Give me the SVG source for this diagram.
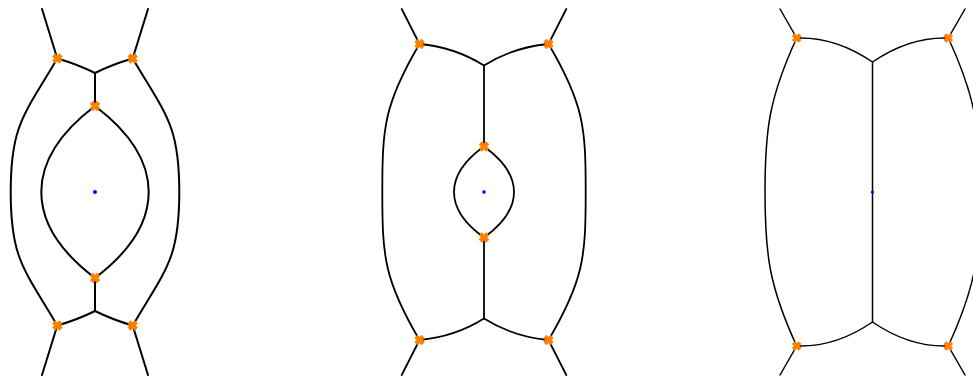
<svg xmlns="http://www.w3.org/2000/svg" xmlns:xlink="http://www.w3.org/1999/xlink" width="973" height="376" viewBox="0 0 973 376">
<style>
.c{fill:none;stroke:#000;stroke-linecap:round;stroke-linejoin:round}
.p1{stroke-width:2}
.p2{stroke-width:1.8}
.p3{stroke-width:1.5}
.x{fill:#ff8000}
.d{fill:#0000ff}
</style>
<defs>
<path id="xm" transform="rotate(45)" d="M-2.2,-5.2H2.2V-2.2H5.2V2.2H2.2V5.2H-2.2V2.2H-5.2V-2.2H-2.2Z"/>
<path id="xs" transform="rotate(45)" d="M-2,-4.8H2V-2H4.8V2H2V4.8H-2V2H-4.8V-2H-2Z"/>
</defs>
<rect width="973" height="376" fill="#fff"/>
<g id="panel1">
<g id="connectors1" class="c p1">
<path d="M57.3,58.5 C24,115 10.7,125 10.7,192 C10.7,259 24,269 57.3,325.5"/>
<path d="M132.7,58.5 C166,115 179.3,125 179.3,192 C179.3,259 166,269 132.7,325.5"/>
<path d="M95,106 C65.3,128.5 41.3,157 41.3,192 C41.3,227 65.3,255.5 95,278 C124.7,255.5 148.7,227 148.7,192 C148.7,157 124.7,128.5 95,106 Z"/>
<path d="M57.3,58.5 Q77.2,64.2 95,73 Q112.8,64.2 132.7,58.5"/>
<path d="M57.3,325.5 Q77.2,319.8 95,311 Q112.8,319.8 132.7,325.5"/>
<path d="M95,73 V106 M95,278 V311"/>
<path d="M42,9 L57.3,58.5 M148,9 L132.7,58.5 M42,375 L57.3,325.5 M148,375 L132.7,325.5"/>
</g>
<g id="markers1" class="x">
<use href="#xm" x="57.3" y="58.5"/>
<use href="#xm" x="132.7" y="58.5"/>
<use href="#xm" x="95" y="106"/>
<use href="#xm" x="95" y="278"/>
<use href="#xm" x="57.3" y="325.5"/>
<use href="#xm" x="132.7" y="325.5"/>
</g>
<circle id="center1" class="d" cx="95" cy="192" r="2"/>
</g>
<g id="panel2">
<g id="connectors2" class="c p2">
<path d="M419.5,44 C384,104 382.3,128 382.3,192 C382.3,256 384,280 419.5,340"/>
<path d="M548.5,44 C584,104 585.7,128 585.7,192 C585.7,256 584,280 548.5,340"/>
<path d="M419.5,44 Q454.8,47.2 484,65.5 Q513.2,47.2 548.5,44"/>
<path d="M419.5,340 Q454.8,336.8 484,318.5 Q513.2,336.8 548.5,340"/>
<path d="M484,65.5 V146.5 M484,237.5 V318.5"/>
<path d="M484,146.5 C466,159.3 454,174 454,192 C454,210 466,224.7 484,237.5 C502,224.7 514,210 514,192 C514,174 502,159.3 484,146.5 Z"/>
<path d="M401.7,9 L419.5,44 M566.3,9 L548.5,44 M401.7,375 L419.5,340 M566.3,375 L548.5,340"/>
</g>
<g id="markers2" class="x">
<use href="#xm" x="419.5" y="44"/>
<use href="#xm" x="548.5" y="44"/>
<use href="#xm" x="484" y="146.5"/>
<use href="#xm" x="484" y="237.5"/>
<use href="#xm" x="419.5" y="340"/>
<use href="#xm" x="548.5" y="340"/>
</g>
<circle id="center2" class="d" cx="484" cy="192" r="1.8"/>
</g>
<g id="panel3">
<g id="connectors3" class="c p3">
<path d="M796.7,38 C769,98 765,130 765,192 C765,254 769,286 796.7,346"/>
<path d="M948.3,38 C976,98 980,130 980,192 C980,254 976,286 948.3,346"/>
<path d="M796.7,38 Q835.4,36.6 872.5,62 Q909.6,36.6 948.3,38"/>
<path d="M796.7,346 Q835.4,347.4 872.5,322 Q909.6,347.4 948.3,346"/>
<path d="M872.5,62 V322"/>
<path d="M780,9 L796.7,38 M965,9 L948.3,38 M780,375 L796.7,346 M965,375 L948.3,346"/>
</g>
<g id="markers3" class="x">
<use href="#xs" x="796.7" y="38"/>
<use href="#xs" x="948.3" y="38"/>
<use href="#xs" x="796.7" y="346"/>
<use href="#xs" x="948.3" y="346"/>
</g>
<circle id="center3" class="d" cx="872.5" cy="192" r="1.6"/>
</g>
</svg>
